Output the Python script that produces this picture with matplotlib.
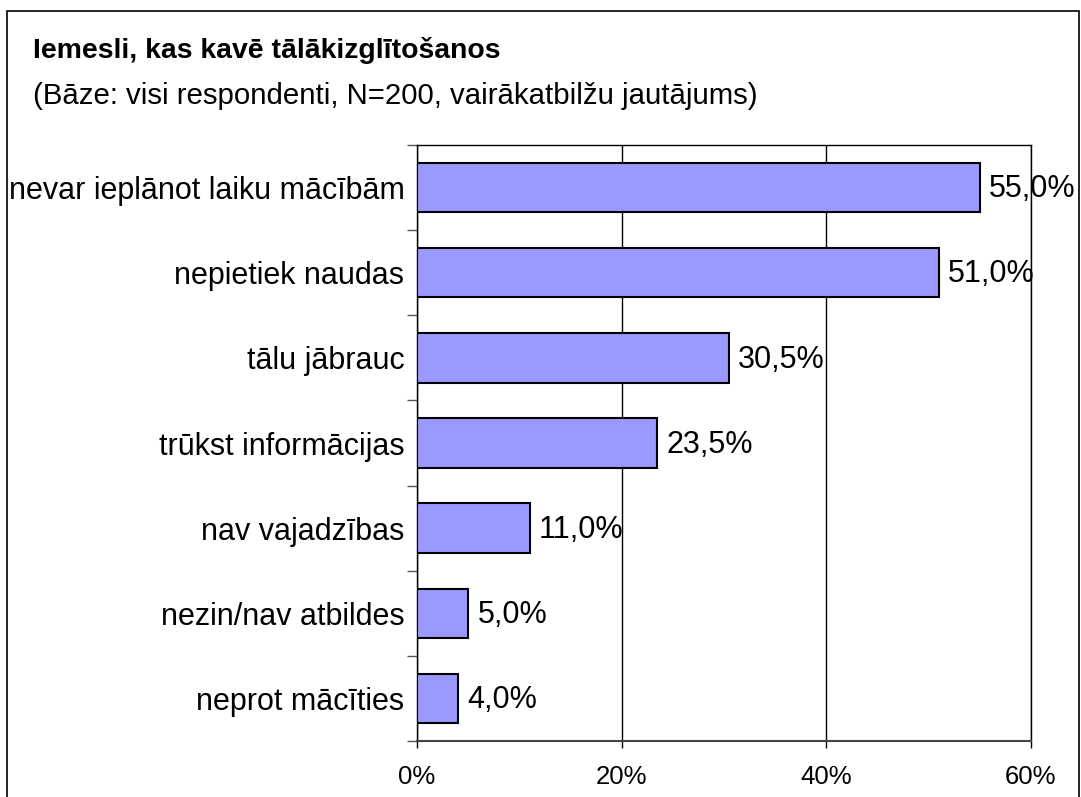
import matplotlib
matplotlib.use("Agg")
import matplotlib.pyplot as plt
from matplotlib.patches import Rectangle
from matplotlib.ticker import FixedLocator

categories = ["nevar ieplānot laiku mācībām", "nepietiek naudas", "tālu jābrauc",
              "trūkst informācijas", "nav vajadzības", "nezin/nav atbildes",
              "neprot mācīties"]
values = [55.0, 51.0, 30.5, 23.5, 11.0, 5.0, 4.0]
xticks = [0, 20, 40, 60]
xticklabels = ["0%", "20%", "40%", "60%"]
title = "Iemesli, kas kavē tālākizglītošanos"
subtitle = "(Bāze: visi respondenti, N=200, vairākatbilžu jautājums)"

plt.rcParams['font.family'] = ['Liberation Sans', 'DejaVu Sans']

fig = plt.figure(figsize=(10.81, 7.97), dpi=100)
ax = fig.add_axes([417/1081, 1-741/797, (1031-417)/1081, (741-145)/797])

ypos = list(range(len(categories)))
ax.barh(ypos, values, height=0.58, color="#9999FF", edgecolor="black", linewidth=1.5, zorder=3)
ax.set_ylim(len(categories)-0.5, -0.5)
ax.set_xlim(0, 60)

for y, v in zip(ypos, values):
    ax.text(v + 0.9, y + 0.02, f"{v:.1f}%".replace(".", ","), va="center", ha="left",
            fontsize=22, zorder=4)

ax.set_yticks(ypos)
ax.set_yticklabels(categories, fontsize=22)
ax.yaxis.set_minor_locator(FixedLocator([i - 0.5 for i in range(len(categories)+1)]))
ax.tick_params(axis="y", which="major", length=0, pad=9)
ax.tick_params(axis="y", which="minor", length=7, width=1, color="#555555")

ax.set_xticks(xticks)
ax.set_xticklabels(xticklabels, fontsize=18.5)
ax.tick_params(axis="x", which="major", length=5, width=1, pad=12)

ax.grid(axis="x", color="black", linewidth=1, zorder=0)
for s in ax.spines.values():
    s.set_color("black")
    s.set_linewidth(1)
ax.spines["bottom"].set_color("#444444")
ax.spines["bottom"].set_linewidth(1.5)

fig.text(33/1081, 1-58/797, title, fontsize=20.4, fontweight="bold", va="baseline", ha="left")
fig.text(33/1081, 1-104/797, subtitle, fontsize=21.2, va="baseline", ha="left")

fig.patches.append(Rectangle((7/1081, -0.01), (1079-7)/1081, 1-11/797+0.01,
                             transform=fig.transFigure, fill=False, edgecolor="black",
                             linewidth=1.2))

fig.savefig("out.png", dpi=100)
